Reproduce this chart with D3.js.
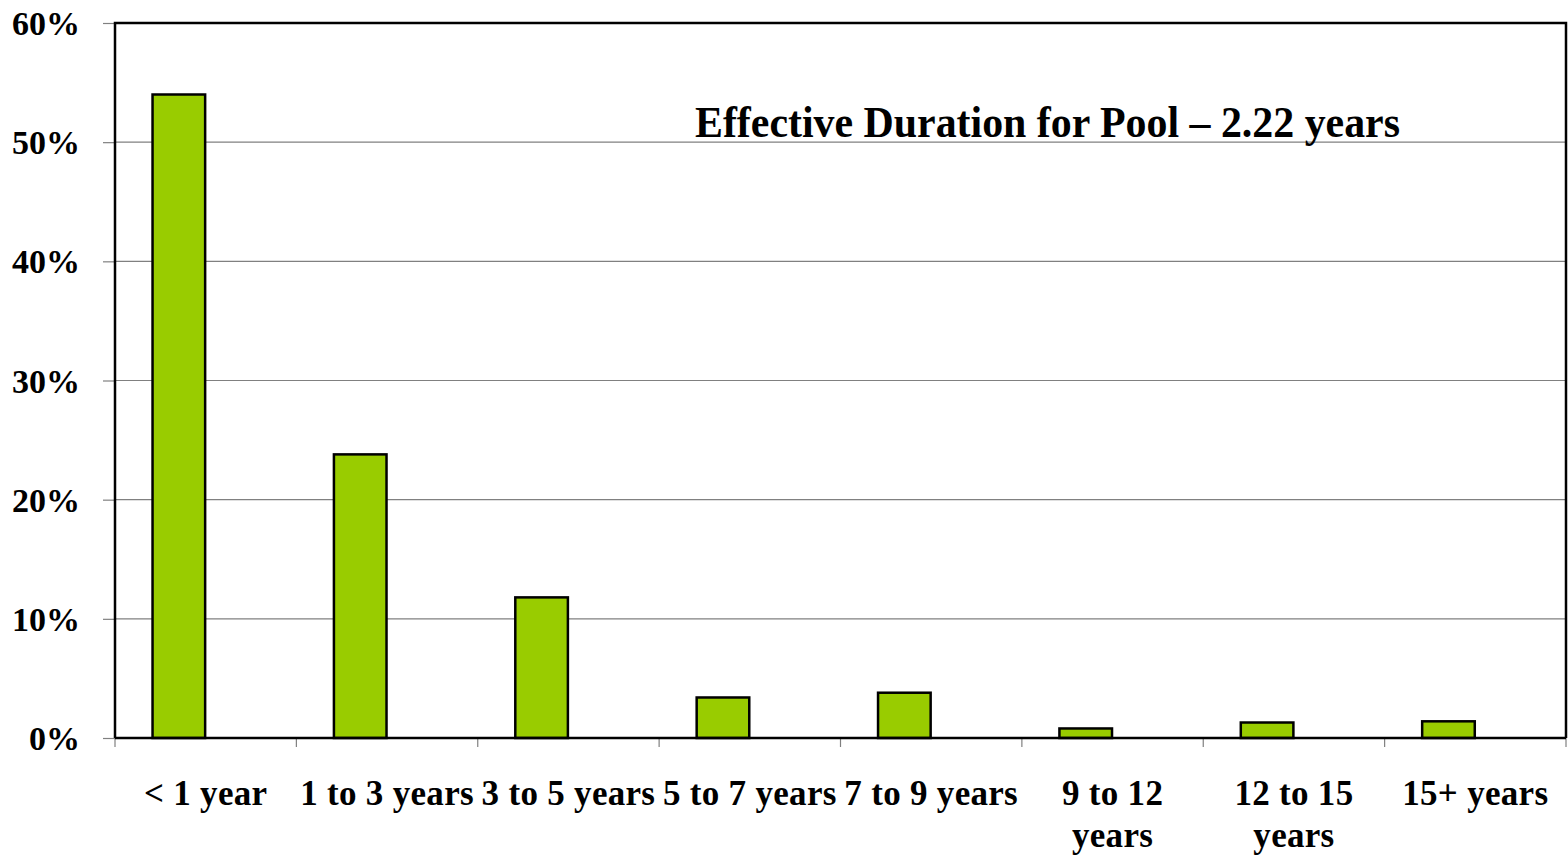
<!DOCTYPE html>
<html>
<head>
<meta charset="utf-8">
<script src="https://cdn.jsdelivr.net/npm/d3@7"></script>
<style>
  html, body { margin: 0; padding: 0; background: #fff; }
  svg { display: block; }
</style>
</head>
<body>
<svg id="chart" width="1568" height="856"></svg>
<script>
const categories = ["< 1 year", "1 to 3 years", "3 to 5 years", "5 to 7 years", "7 to 9 years", "9 to 12 years", "12 to 15 years", "15+ years"];
const labelLines = [["< 1 year"], ["1 to 3 years"], ["3 to 5 years"], ["5 to 7 years"], ["7 to 9 years"], ["9 to 12", "years"], ["12 to 15", "years"], ["15+ years"]];
const values = [54.0, 23.8, 11.8, 3.4, 3.8, 0.8, 1.3, 1.4];
const yTicks = [0, 10, 20, 30, 40, 50, 60];
const annotation = "Effective Duration for Pool \u2013 2.22 years";

(function () {
const svg = d3.select("#chart");
const mL = 115, mR = 1566, mT = 23, mB = 738;
const labelFont = "'Liberation Serif', 'Times New Roman', serif";

const x = d3.scaleBand().domain(categories).range([mL, mR]).paddingInner(0).paddingOuter(0);
const y = d3.scaleLinear().domain([0, 60]).range([mB, mT]);

// gridlines
svg.append("g").selectAll("line").data(yTicks.filter(d => d > 0 && d < 60)).join("line")
  .attr("x1", mL).attr("x2", mR)
  .attr("y1", d => y(d)).attr("y2", d => y(d))
  .attr("stroke", "#808080").attr("stroke-width", 1.2);

// y axis
const yAxis = svg.append("g").attr("transform", `translate(${mL},0)`)
  .call(d3.axisLeft(y).tickValues(yTicks).tickFormat(d => d + "%").tickSize(12).tickPadding(23));
yAxis.select(".domain").remove();
yAxis.selectAll(".tick line").attr("stroke", "#808080").attr("stroke-width", 1.2);
yAxis.selectAll(".tick text").attr("font-family", labelFont).attr("font-weight", "bold")
  .attr("font-size", 34).attr("fill", "#000").attr("dy", "0.34em");

// x axis ticks at band boundaries
const bounds = categories.map(c => x(c)).concat([mR]);
svg.append("g").selectAll("line").data(bounds).join("line")
  .attr("x1", d => d).attr("x2", d => d)
  .attr("y1", mB).attr("y2", mB + 9)
  .attr("stroke", "#808080").attr("stroke-width", 1.2);

// bars (first of two series slots; second slot empty)
const bw = x.bandwidth();
const barW = bw * 0.29;
const barOff = bw * 0.207;
svg.append("g").selectAll("rect").data(values).join("rect")
  .attr("x", (d, i) => x(categories[i]) + barOff)
  .attr("y", d => y(d))
  .attr("width", barW)
  .attr("height", d => y(0) - y(d))
  .attr("fill", "#99CC00")
  .attr("stroke", "#000").attr("stroke-width", 2.5);

// frame
svg.append("path")
  .attr("d", `M${mL},${mB} V${mT} H${mR} V${mB}`)
  .attr("fill", "none").attr("stroke", "#000").attr("stroke-width", 2.5);
svg.append("line").attr("x1", mL).attr("x2", mR).attr("y1", mB).attr("y2", mB)
  .attr("stroke", "#000").attr("stroke-width", 2.5);

// x labels
const xl = svg.append("g");
labelLines.forEach((lines, i) => {
  const t = xl.append("text")
    .attr("x", x(categories[i]) + bw / 2)
    .attr("y", 805)
    .attr("text-anchor", "middle")
    .attr("font-family", labelFont).attr("font-weight", "bold")
    .attr("font-size", 35).attr("letter-spacing", 0.3).attr("fill", "#000");
  lines.forEach((ln, j) => {
    t.append("tspan").attr("x", x(categories[i]) + bw / 2).attr("dy", j === 0 ? 0 : 42).text(ln);
  });
});

// annotation
svg.append("text")
  .attr("x", 695).attr("y", 137)
  .attr("text-anchor", "start")
  .attr("font-family", labelFont).attr("font-weight", "bold")
  .attr("font-size", 45).attr("fill", "#000")
  .attr("textLength", 705).attr("lengthAdjust", "spacingAndGlyphs")
  .text(annotation);
})();
</script>
</body>
</html>
